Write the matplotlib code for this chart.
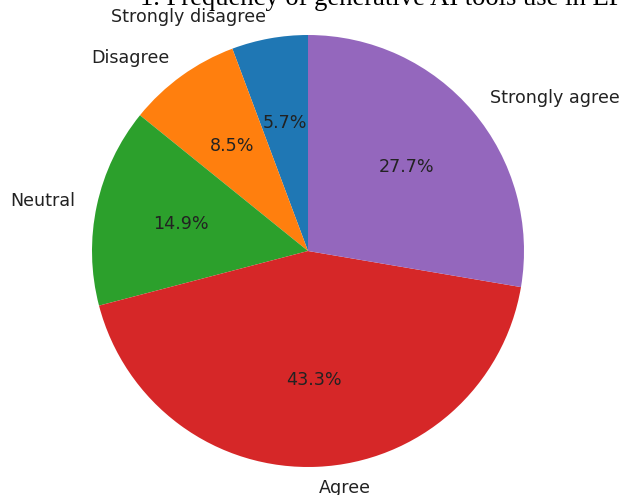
import matplotlib.pyplot as plt

labels = ["Strongly disagree", "Disagree", "Neutral", "Agree", "Strongly agree"]
shares = [5.7, 8.5, 14.9, 43.3, 27.7]
title = "1. Frequency of generative AI tools use in EFL classrooms"

W, H = 621, 495
cx, cy, r = 308, 251, 216  # pie centre and radius in pixels

fig = plt.figure(figsize=(W / 100, H / 100), dpi=100)
ax = fig.add_axes([(cx - r) / W, (H - cy - r) / H, 2 * r / W, 2 * r / H])
ax.pie(shares, labels=labels, autopct="%1.1f%%", startangle=90,
       textprops={"fontsize": 12.6, "color": "#222222"})
ax.set_xlim(-1, 1)
ax.set_ylim(-1, 1)
ax.set_aspect("auto")
ax.axis("off")

fig.text(140 / W, 1 - 5 / H, title, ha="left", va="baseline",
         family="Liberation Serif", fontsize=19.2)

fig.savefig("out.png", dpi=100)
